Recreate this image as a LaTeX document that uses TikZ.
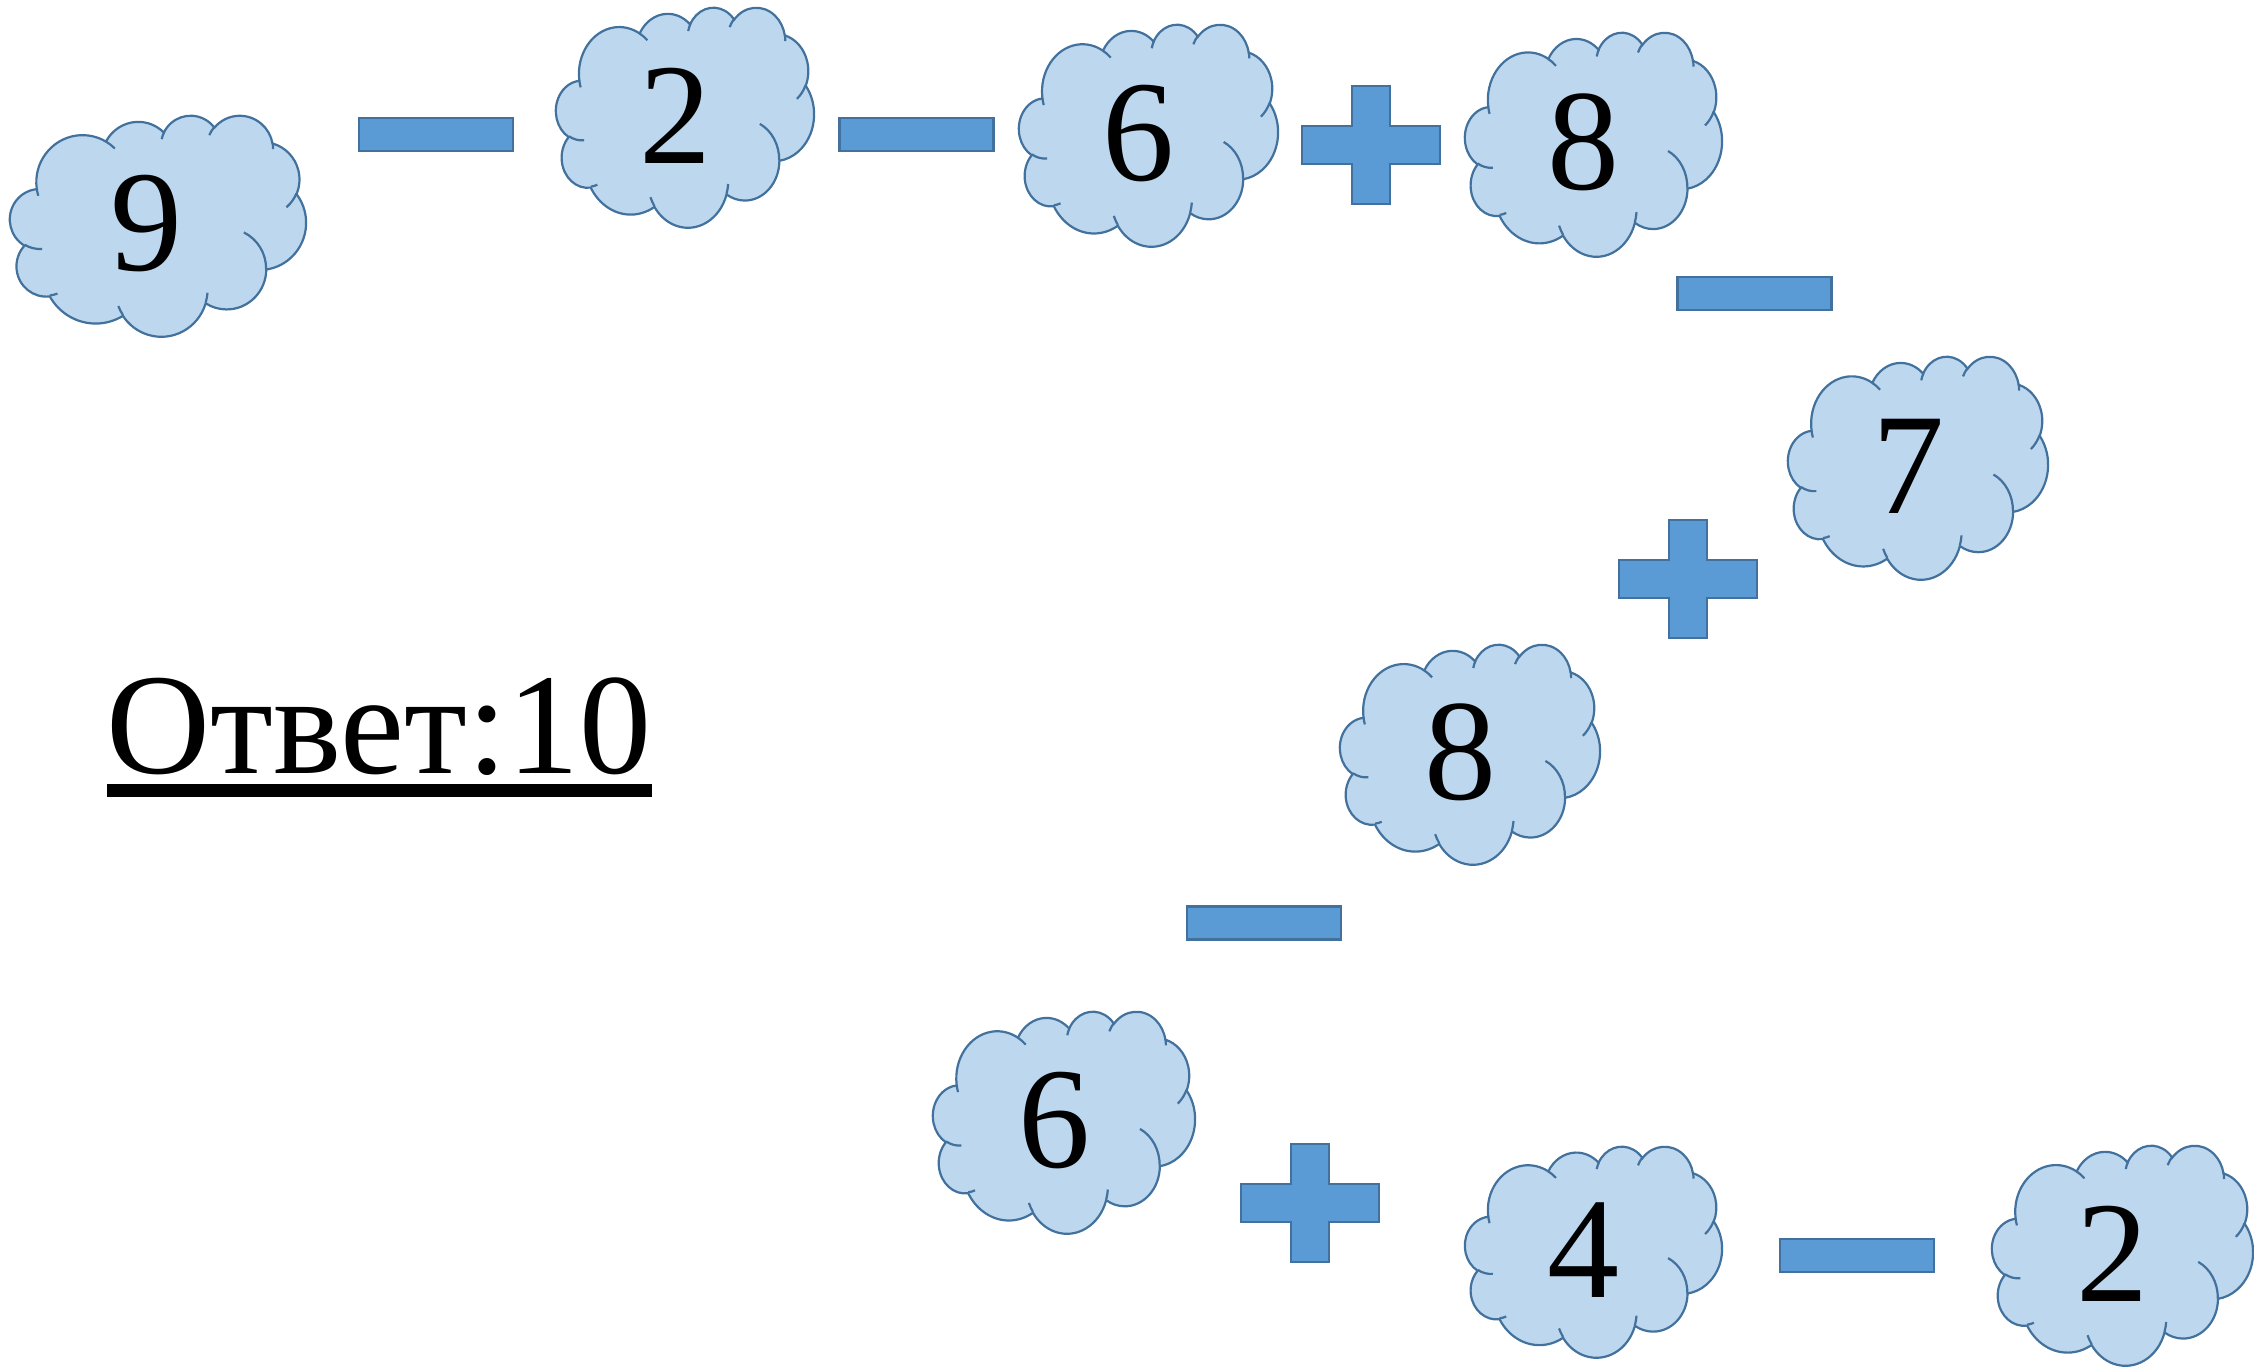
\documentclass[tikz,border=0pt]{standalone}
\usepackage{fontspec}
\setmainfont{Liberation Serif}
\usepackage{xcolor}
\usetikzlibrary{calc}
\definecolor{cloudfill}{HTML}{BDD7EE}
\definecolor{cloudline}{HTML}{41719C}
\definecolor{signfill}{HTML}{5B9BD5}
\tikzset{
  puff/.style    ={draw=cloudline,line width=1.1pt,fill=cloudfill},
  crease/.style  ={draw=cloudline,line width=1.1pt},
  minusbar/.style={rectangle,draw=cloudline,line width=1.3pt,fill=signfill,
                   minimum width=77pt,minimum height=16.5pt,inner sep=0pt},
  plusbar/.style ={draw=cloudline,line width=1.3pt,fill=signfill},
  digit/.style   ={font=\fontsize{72}{80}\selectfont,inner sep=0pt},
  answer/.style  ={font=\fontsize{72}{80}\selectfont,inner sep=0pt},
  % cloud drawn in a 100 x 100 box, top left at the pic origin
  pics/cloudnum/.style={code={
      \path[puff] (9.03,33.26)
        arc[start angle=-187.75,end angle=-59.63,x radius=15.632,y radius=21.273]
        arc[start angle=-152.01,end angle=-45.46,x radius=12.345,y radius=16.822]
        arc[start angle=-153.50,end angle=-37.33,x radius=10.104,y radius=13.762]
        arc[start angle=-139.69,end angle=-10.21,x radius=11.243,y radius=15.266]
        arc[start angle=-74.77,end angle=23.21,x radius=12.345,y radius=16.836]
        arc[start angle=-37.53,end angle=81.86,x radius=15.683,y radius=21.343]
        arc[start angle=0.46,end angle=121.98,x radius=13.391,y radius=18.211]
        arc[start angle=16.84,end angle=146.23,x radius=15.630,y radius=21.331]
        arc[start angle=59.03,end angle=150.20,x radius=17.870,y radius=24.405]
        arc[start angle=83.31,end angle=223.11,x radius=10.093,y radius=13.699]
        arc[start angle=120.35,end angle=264.11,x radius=10.058,y radius=13.762]
        -- cycle;
      \path[crease]
        (10.863,60.595) arc[start angle=85.54,end angle=120.35,x radius=10.058,y radius=13.762]
        (16.037,80.785) arc[start angle=68.25,end angle=83.31,x radius=10.093,y radius=13.699]
        (38.144,90.486) arc[start angle=146.23,end angle=158.48,x radius=15.630,y radius=21.331]
        (66.729,80.442) arc[start angle=4.74,end angle=16.84,x radius=15.630,y radius=21.331]
        (79.002,53.134) arc[start angle=-64.01,end angle=0.46,x radius=13.391,y radius=18.211]
        (96.755,35.542) arc[start angle=23.21,end angle=49.65,x radius=12.345,y radius=16.836]
        (88.713,12.560) arc[start angle=-10.21,end angle=0.82,x radius=11.243,y radius=15.266]
        (67.310,9.148)  arc[start angle=-156.28,end angle=-139.69,x radius=11.243,y radius=15.266]
        (51.252,10.926) arc[start angle=-167.73,end angle=-153.50,x radius=10.104,y radius=13.762]
        (32.407,12.019) arc[start angle=-59.63,end angle=-45.74,x radius=15.632,y radius=21.273]
        (9.553,36.549)  arc[start angle=163.19,end angle=172.26,x radius=15.632,y radius=21.273];
      \node[digit] (-n) at (46.2,49.3) {#1};
  }},
  pics/plussign/.style={code={
      \path[plusbar] (-69,-19) -- (-19,-19) -- (-19,-59) -- (19,-59) -- (19,-19)
        -- (69,-19) -- (69,19) -- (19,19) -- (19,59) -- (-19,59) -- (-19,19)
        -- (-69,19) -- cycle;
  }}
}

\begin{document}
\begin{tikzpicture}[x=0.5pt,y=-0.5pt]
  \useasboundingbox (0,0) rectangle (2254,1368);
  % clouds
  \pic[xscale=2.96,yscale=2.21] (c1) at (10,115) {cloudnum=9};
  \pic[xscale=2.58,yscale=2.20] (c2) at (556,7) {cloudnum=2};
  \pic[xscale=2.59,yscale=2.22] (c3) at (1019,24) {cloudnum=6};
  \pic[xscale=2.57,yscale=2.24] (c4) at (1465,32) {cloudnum=8};
  \pic[xscale=2.60,yscale=2.23] (c5) at (1788,356) {cloudnum=7};
  \pic[xscale=2.60,yscale=2.20] (c6) at (1340,644) {cloudnum=8};
  \pic[xscale=2.62,yscale=2.22] (c7) at (933,1011) {cloudnum=6};
  \pic[xscale=2.57,yscale=2.11] (c8) at (1465,1146) {cloudnum=4};
  \pic[xscale=2.61,yscale=2.20] (c9) at (1992,1145) {cloudnum=2};
  % signs
  \node[minusbar] (m1) at (436,134.5) {};
  \node[minusbar] (m2) at (916.5,134.5) {};
  \node[minusbar] (m3) at (1754.5,293.5) {};
  \node[minusbar] (m4) at (1264,923) {};
  \node[minusbar] (m5) at (1857,1255.5) {};
  \pic (p1) at (1371,145) {plussign};
  \pic (p2) at (1688,579) {plussign};
  \pic (p3) at (1310,1203) {plussign};
  % answer
  \node[answer,anchor=base west] (ans) at (106,774) {Ответ:10};
  \fill ($(ans.base west)+(1,10)$) rectangle ($(ans.base east)+(0,23)$);
\end{tikzpicture}
\end{document}
